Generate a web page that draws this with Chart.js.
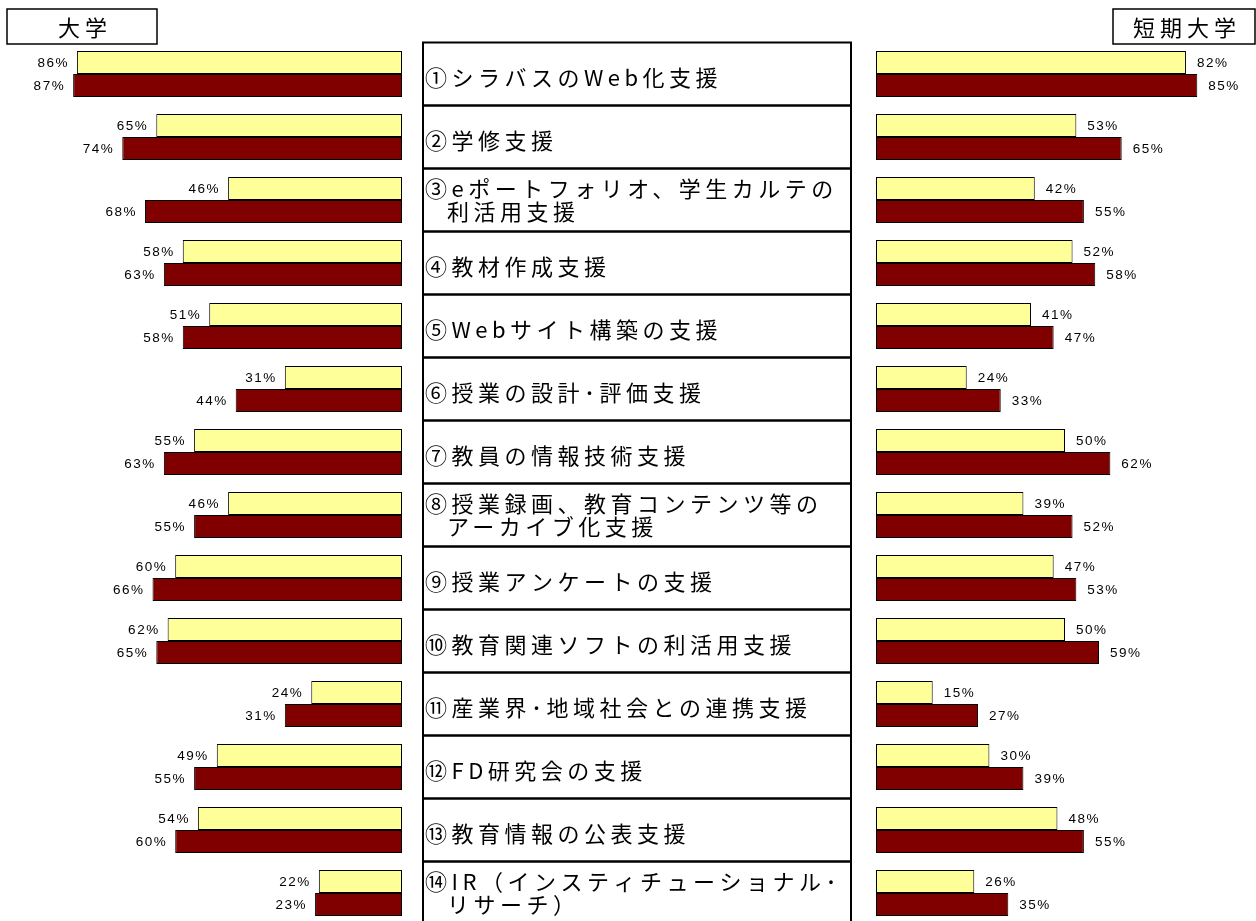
<!DOCTYPE html>
<html>
<head>
<meta charset="utf-8">
<script src="https://cdn.jsdelivr.net/npm/chart.js@4"></script>
<style>
  body { margin: 0; background: #fff; }
  #wrap { position: relative; width: 1256px; height: 921px; overflow: hidden; }
  #wrap canvas { position: absolute; left: 0; top: 0; }
</style>
</head>
<body>
<div id="wrap">
  <canvas id="leftChart" width="1256" height="925"></canvas>
  <canvas id="rightChart" width="1256" height="925"></canvas>
</div>
<script>
const categories = [
  "①シラバスのWeb化支援",
  "②学修支援",
  "③eポートフォリオ、学生カルテの\n利活用支援",
  "④教材作成支援",
  "⑤Webサイト構築の支援",
  "⑥授業の設計･評価支援",
  "⑦教員の情報技術支援",
  "⑧授業録画、教育コンテンツ等の\nアーカイブ化支援",
  "⑨授業アンケートの支援",
  "⑩教育関連ソフトの利活用支援",
  "⑪産業界･地域社会との連携支援",
  "⑫FD研究会の支援",
  "⑬教育情報の公表支援",
  "⑭IR（インスティチューショナル･\nリサーチ）",
];

// 大学 (left side)
const univYellow = [86, 65, 46, 58, 51, 31, 55, 46, 60, 62, 24, 49, 54, 22];
const univRed = [87, 74, 68, 63, 58, 44, 63, 55, 66, 65, 31, 55, 60, 23];

// 短期大学 (right side)
const juniorYellow = [82, 53, 42, 52, 41, 24, 50, 39, 47, 50, 15, 30, 48, 26];
const juniorRed = [85, 65, 55, 58, 47, 33, 62, 52, 53, 59, 27, 39, 55, 35];

const YELLOW = "#ffff99";
const RED = "#800000";

const valueLabels = {
  id: "valueLabels",
  afterDatasetsDraw(chart, args, opts) {
    const ctx = chart.ctx;
    ctx.save();
    ctx.font = '13.5px "Liberation Sans", Arial, sans-serif';
    ctx.letterSpacing = "1.5px";
    ctx.fillStyle = "#000";
    ctx.textBaseline = "middle";
    chart.data.datasets.forEach((ds, di) => {
      chart.getDatasetMeta(di).data.forEach((bar, i) => {
        const txt = ds.data[i] + "%";
        if (opts.side === "left") {
          ctx.textAlign = "right";
          ctx.fillText(txt, bar.x - 8, bar.y + 1);
        } else {
          ctx.textAlign = "left";
          ctx.fillText(txt, bar.x + 11, bar.y + 1);
        }
      });
    });
    ctx.restore();
  },
};

const headerBox = {
  id: "headerBox",
  afterDraw(chart, args, opts) {
    const ctx = chart.ctx;
    ctx.save();
    ctx.lineWidth = 1.5;
    ctx.strokeStyle = "#000";
    ctx.strokeRect(opts.x, opts.y, opts.w, opts.h);
    ctx.font = '22px "Noto Sans CJK JP", sans-serif';
    ctx.letterSpacing = "5px";
    ctx.fillStyle = "#000";
    ctx.textAlign = "center";
    ctx.textBaseline = "middle";
    ctx.fillText(opts.text, opts.x + opts.w / 2 + 3, opts.y + opts.h / 2 + 1);
    ctx.restore();
  },
};

// middle column with the item names, drawn on the left chart's category scale
const itemBoxes = {
  id: "itemBoxes",
  afterDraw(chart) {
    const ctx = chart.ctx;
    const y = chart.scales.y;
    const band = y.getPixelForValue(1) - y.getPixelForValue(0);
    ctx.save();
    ctx.lineWidth = 2;
    ctx.strokeStyle = "#000";
    ctx.font = '22px "Noto Sans CJK JP", sans-serif';
    ctx.letterSpacing = "4.5px";
    ctx.fillStyle = "#000";
    ctx.textAlign = "left";
    ctx.textBaseline = "middle";
    categories.forEach((c, i) => {
      const cy = y.getPixelForValue(i);
      ctx.strokeRect(423, cy - band / 2, 428, band);
      const lines = c.split("\n");
      if (lines.length === 1) {
        ctx.fillText(lines[0], 425, cy + 4);
      } else {
        ctx.fillText(lines[0], 425, cy - 11);
        ctx.fillText(lines[1], 447, cy + 12);
      }
    });
    ctx.restore();
  },
};

const makeChart = (id, yellow, red, side) => {
  const left = side === "left";
  return new Chart(document.getElementById(id), {
    type: "bar",
    data: {
      labels: categories,
      datasets: [
        {
          label: "yellow",
          data: yellow,
          backgroundColor: YELLOW,
          borderColor: "#000",
          borderWidth: 1,
          borderSkipped: false,
        },
        {
          label: "red",
          data: red,
          backgroundColor: RED,
          borderColor: "#000",
          borderWidth: 1,
          borderSkipped: false,
        },
      ],
    },
    options: {
      indexAxis: "y",
      responsive: false,
      animation: false,
      devicePixelRatio: 1,
      datasets: {
        bar: { categoryPercentage: 0.73, barPercentage: 1 },
      },
      layout: {
        padding: left
          ? { left: 24, right: 854, top: 42.5, bottom: 0.5 }
          : { left: 876, right: 2, top: 42.5, bottom: 0.5 },
      },
      scales: {
        x: { min: 0, max: 100, reverse: left, display: false },
        y: { display: false },
      },
      plugins: {
        legend: { display: false },
        tooltip: { enabled: false },
        valueLabels: { side: side },
        headerBox: left
          ? { x: 7, y: 9, w: 150, h: 35, text: "大学" }
          : { x: 1113, y: 9, w: 142, h: 35, text: "短期大学" },
      },
    },
    plugins: left ? [valueLabels, headerBox, itemBoxes] : [valueLabels, headerBox],
  });
};

window.leftChart = makeChart("leftChart", univYellow, univRed, "left");
window.rightChart = makeChart("rightChart", juniorYellow, juniorRed, "right");
</script>
</body>
</html>
